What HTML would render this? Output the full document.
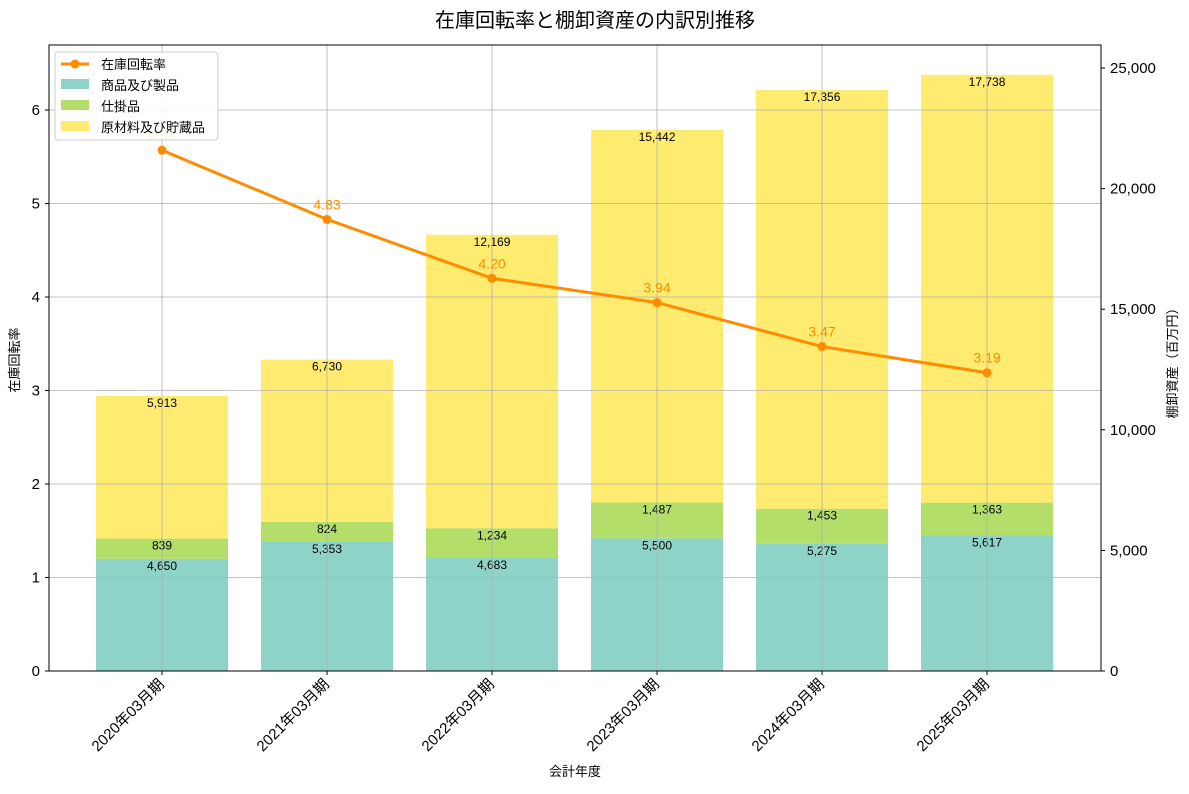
<!DOCTYPE html>
<html><head><meta charset="utf-8"><style>
body{margin:0;background:#fff;}
svg{font-family:"Liberation Sans","Noto Sans CJK JP",sans-serif;}
</style></head><body>
<svg id="c" width="1189" height="789" xmlns="http://www.w3.org/2000/svg"></svg>
<script>
const categories=["2020年03月期","2021年03月期","2022年03月期","2023年03月期","2024年03月期","2025年03月期"];
const goods=[4650,5353,4683,5500,5275,5617];
const wip=[839,824,1234,1487,1453,1363];
const materials=[5913,6730,12169,15442,17356,17738];
const turnover=[5.57,4.83,4.20,3.94,3.47,3.19];
const leftTicks=[0,1,2,3,4,5,6];
const rightTicks=[0,5000,10000,15000,20000,25000];

const NS="http://www.w3.org/2000/svg";
const svg=document.getElementById('c');
const L=49,R=1101,T=45,B=671;
const xS=i=>L+(i+0.685)*165;
const yL=v=>B-v*(B-110)/6;
const yR=v=>B-v*(B-68)/25000;
function el(tag,attrs,parent){const e=document.createElementNS(NS,tag);for(const k in attrs)e.setAttribute(k,attrs[k]);(parent||svg).appendChild(e);return e;}
function txt(s,attrs){const e=el('text',attrs);e.textContent=s;return e;}

const colors=["#8ED3C7","#B3DE69","#FEEB6F"];
const series=[goods,wip,materials];
const snames=["goods","wip","materials"];
categories.forEach((c,i)=>{
  let base=0;
  series.forEach((s,k)=>{
    const y0=yR(base),y1=yR(base+s[i]);
    const r=el('rect',{x:xS(i)-66,y:y1,width:132,height:y0-y1,fill:colors[k]});
    
    
    const t=txt(s[i].toLocaleString('en-US'),{x:xS(i),y:y1+11,'font-size':12,'text-anchor':'middle',fill:'#000'});
    
    
    base+=s[i];
  });
});
leftTicks.forEach(v=>{const g=el('line',{x1:L,x2:R,y1:yL(v),y2:yL(v),stroke:'#b0b0b0','stroke-width':0.8});});
categories.forEach((c,i)=>{const g=el('line',{x1:xS(i),x2:xS(i),y1:T,y2:B,stroke:'#b0b0b0','stroke-width':0.8});});
const fr=el('rect',{x:L,y:T,width:R-L,height:B-T,fill:'none',stroke:'#000','stroke-width':1});

const pl=el('polyline',{points:turnover.map((v,i)=>xS(i)+','+yL(v)).join(' '),fill:'none',stroke:'#FF8C00','stroke-width':3});

turnover.forEach((v,i)=>{
  const p=el('circle',{cx:xS(i),cy:yL(v),r:4.5,fill:'#FF8C00'});
  
  const t=txt(v.toFixed(2),{x:xS(i),y:yL(v)-10,'font-size':14,'text-anchor':'middle',fill:'#FF8C00'});
  
});
leftTicks.forEach(v=>{el('line',{x1:L-4,x2:L,y1:yL(v),y2:yL(v),stroke:'#000'});
  const t=txt(String(v),{x:L-9,y:yL(v)+5,'font-size':15,'text-anchor':'end'});});
rightTicks.forEach(v=>{el('line',{x1:R,x2:R+4,y1:yR(v),y2:yR(v),stroke:'#000'});
  const t=txt(v.toLocaleString('en-US'),{x:R+9,y:yR(v)+5,'font-size':15});});
categories.forEach((c,i)=>{el('line',{x1:xS(i),x2:xS(i),y1:B,y2:B+4,stroke:'#000'});
  const t=txt(c,{x:xS(i)+3,y:B+14,'font-size':15,'text-anchor':'end',transform:`rotate(-45 ${xS(i)+3} ${B+14})`});
  });
let t=txt('在庫回転率と棚卸資産の内訳別推移',{x:595,y:27,'font-size':20,'text-anchor':'middle'});
t=txt('会計年度',{x:575,y:776,'font-size':13,'text-anchor':'middle'});
t=txt('在庫回転率',{x:19,y:360,'font-size':13,'text-anchor':'middle',transform:'rotate(-90 19 360)'});
t=txt('棚卸資産（百万円）',{x:1177,y:360,'font-size':13,'text-anchor':'middle',transform:'rotate(-90 1177 360)'});
const lg=el('g',{});
el('rect',{x:55,y:52,width:163,height:88,rx:3,fill:'#fff','fill-opacity':0.85,stroke:'#ccc'},lg);
el('line',{x1:61,x2:89,y1:64,y2:64,stroke:'#FF8C00','stroke-width':3},lg);
el('circle',{cx:75,cy:64,r:4.5,fill:'#FF8C00'},lg);
const ln=['在庫回転率','商品及び製品','仕掛品','原材料及び貯蔵品'];
ln.forEach((s,k)=>{
  if(k>0){el('rect',{x:61,y:58+k*21,width:28,height:10,fill:colors[k-1]},lg);}
  const e=document.createElementNS(NS,'text');e.setAttribute('x',101);e.setAttribute('y',69+k*21);e.setAttribute('font-size',13);e.textContent=s;
  lg.appendChild(e);
});
</script>
</body></html>
